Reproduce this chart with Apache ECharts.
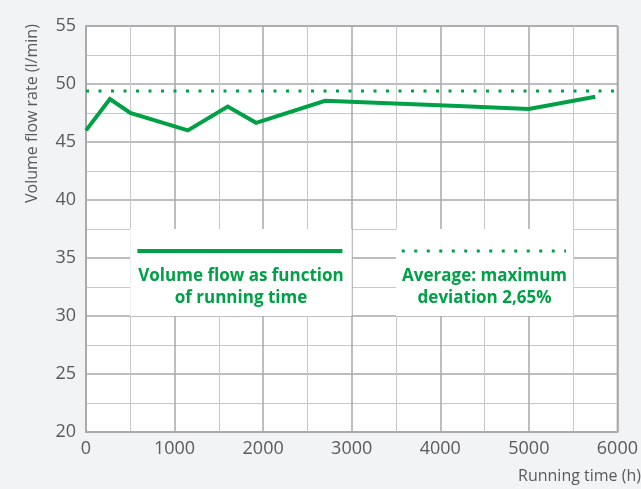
<!DOCTYPE html>
<html>
<head>
<meta charset="utf-8">
<script src="https://cdn.jsdelivr.net/npm/echarts@6/dist/echarts.min.js"></script>
<style>
html,body{margin:0;padding:0;background:#f2f3f5;}
#c{width:641px;height:489px;}
</style>
</head>
<body>
<div id="c"></div>
<script>
// Data
const runningTime = [0, 270, 500, 1150, 1600, 1920, 2700, 4200, 5000, 5750];
const volumeFlow = [46.0, 48.7, 47.5, 46.0, 48.05, 46.65, 48.55, 48.1, 47.85, 48.9];
const averageFlow = 49.4;
const xTicks = [0, 1000, 2000, 3000, 4000, 5000, 6000];
const yTicks = [20, 25, 30, 35, 40, 45, 50, 55];
const legendBoxes = [[500, 3000], [3500, 5500]];
const legendTexts = ['Volume flow as function\nof running time', 'Average: maximum\ndeviation 2,65%'];

const GREEN = '#00a046';
const FONT = '"Open Sans", sans-serif';

const chart = echarts.init(document.getElementById('c'));
const xMin = xTicks[0], xMax = xTicks[xTicks.length - 1];
const yMin = yTicks[0], yMax = yTicks[yTicks.length - 1];

chart.setOption({
  backgroundColor: '#f2f3f5',
  animation: false,
  grid: { left: 86, right: 16, top: 26, bottom: 57, show: true, backgroundColor: '#ffffff', borderColor: '#a9a9ab', borderWidth: 1.5 },
  xAxis: {
    type: 'value', min: xMin, max: xMax, interval: 1000,
    axisLine: { show: true, lineStyle: { color: '#a9a9ab', width: 1.5 } },
    axisTick: { show: false },
    axisLabel: { color: '#5a5a5c', fontSize: 18, fontFamily: FONT, margin: 8, formatter: v => String(v) },
    splitLine: { show: true, lineStyle: { color: '#a9a9ab', width: 1.5 } },
    minorTick: { show: false, splitNumber: 2 },
    minorSplitLine: { show: true, lineStyle: { color: '#c8c8ca', width: 1 } }
  },
  yAxis: {
    type: 'value', min: yMin, max: yMax, interval: 5,
    axisLine: { show: true, lineStyle: { color: '#a9a9ab', width: 1.5 } },
    axisTick: { show: false },
    axisLabel: { color: '#5a5a5c', fontSize: 18, fontFamily: FONT, margin: 10, formatter: v => String(v) },
    splitLine: { show: true, lineStyle: { color: '#a9a9ab', width: 1.5 } },
    minorTick: { show: false, splitNumber: 2 },
    minorSplitLine: { show: true, lineStyle: { color: '#c8c8ca', width: 1 } }
  },
  series: [
    {
      type: 'line',
      data: runningTime.map((t, i) => [t, volumeFlow[i]]),
      showSymbol: false,
      lineStyle: { color: GREEN, width: 4, join: 'miter' },
      z: 3,
      markArea: {
        silent: true,
        itemStyle: { color: '#ffffff' },
        data: legendBoxes.map(b => [{ xAxis: b[0], yAxis: 30 }, { xAxis: b[1], yAxis: 37.5 }])
      }
    },
    {
      type: 'line',
      data: [[xMin, averageFlow], [xMax, averageFlow]],
      showSymbol: false,
      lineStyle: { color: GREEN, width: 3, type: [3, 9.5] },
      z: 3
    }
  ]
});

// Legend samples & text positioned via the axes
function px(x, y) { return chart.convertToPixel({ gridIndex: 0 }, [x, y]); }
const ly = 35.6;
const l1a = px(580, ly), l1b = px(2895, ly);
const l2a = px(3565, ly), l2b = px(5420, ly);
const c1 = px(1750, 32.45), c2 = px(4500, 32.45);
const g = [
  { type: 'line', z: 100, shape: { x1: l1a[0], y1: l1a[1], x2: l1b[0], y2: l1b[1] }, style: { stroke: GREEN, lineWidth: 4 } },
  { type: 'line', z: 100, shape: { x1: l2a[0], y1: l2a[1], x2: l2b[0], y2: l2b[1] }, style: { stroke: GREEN, lineWidth: 3, lineDash: [3, 9.5] } },
  { type: 'text', z: 100, x: c1[0], y: c1[1], style: { text: legendTexts[0], fill: GREEN, font: 'bold 17px ' + FONT, align: 'center', verticalAlign: 'middle', lineHeight: 22 } },
  { type: 'text', z: 100, x: c2[0], y: c2[1], style: { text: legendTexts[1], fill: GREEN, font: 'bold 17px ' + FONT, align: 'center', verticalAlign: 'middle', lineHeight: 22 } },
  { type: 'text', z: 100, x: 641, y: 468, style: { text: 'Running time (h)', fill: '#5a5a5c', font: '16px ' + FONT, align: 'right', verticalAlign: 'top' } },
  { type: 'text', z: 100, x: 24, y: 203, rotation: Math.PI / 2, style: { text: 'Volume flow rate (l/min)', fill: '#5a5a5c', font: '16px ' + FONT } }
];
chart.setOption({ graphic: g });
</script>
</body>
</html>
